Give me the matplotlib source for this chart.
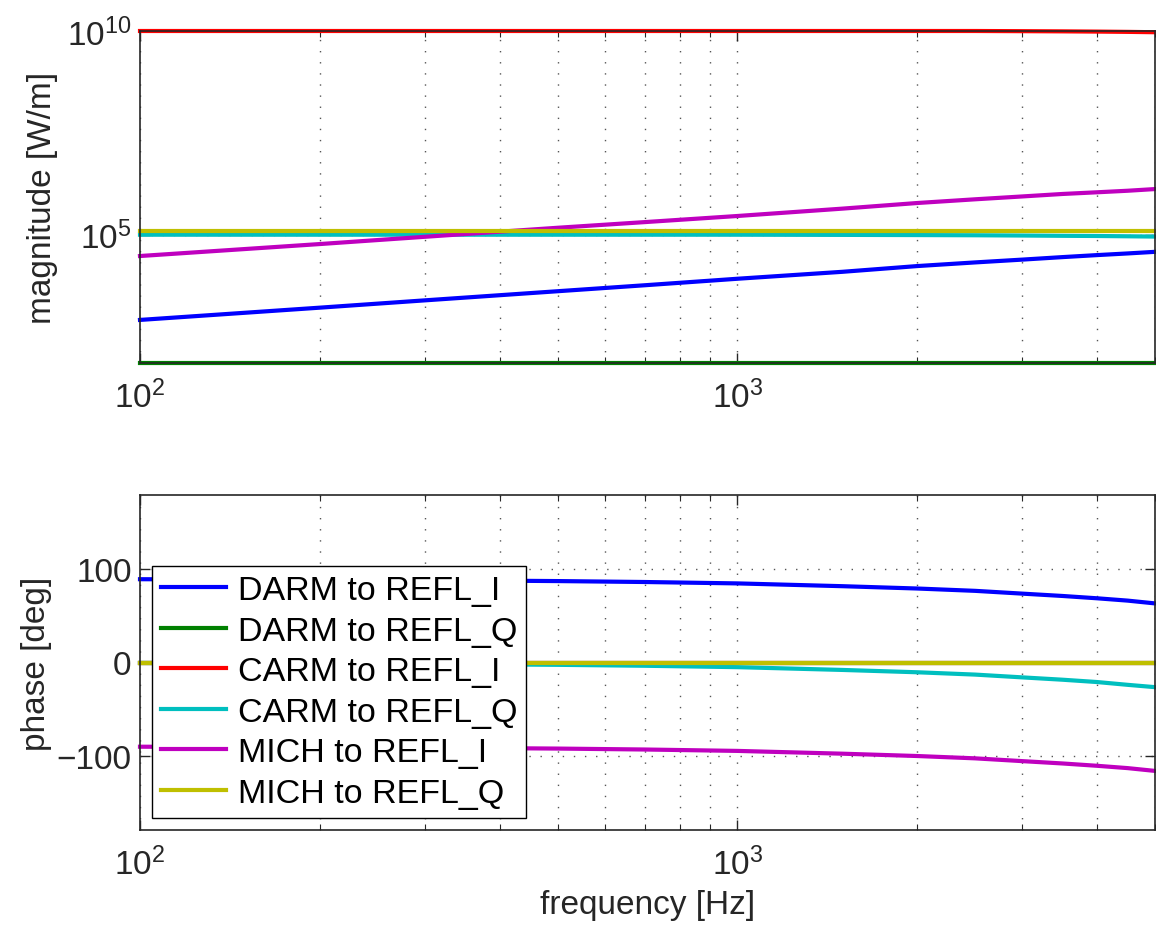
import matplotlib
matplotlib.use("Agg")
import numpy as np
from matplotlib import pyplot as plt
from matplotlib.ticker import LogLocator, FixedLocator, NullFormatter

plt.rcParams["font.family"] = ["Liberation Sans", "DejaVu Sans"]
plt.rcParams["mathtext.fontset"] = "custom"
plt.rcParams["mathtext.rm"] = "Liberation Sans"
plt.rcParams["mathtext.it"] = "Liberation Sans:italic"

FS = 24

# frequency points [Hz]
freq = [100, 200, 300, 500, 700, 1000, 1500, 2000, 2500, 3000, 3500, 4000, 4500, 5000]

labels = [
    "DARM to REFL_I",
    "DARM to REFL_Q",
    "CARM to REFL_I",
    "CARM to REFL_Q",
    "MICH to REFL_I",
    "MICH to REFL_Q",
]
colors = ["#0000ff", "#008000", "#ff0000", "#00bfbf", "#bf00bf", "#bfbf00"]

# magnitude [W/m]
mag_darm_i = [8.1e2, 1.62e3, 2.45e3, 4.1e3, 5.75e3, 8.3e3, 1.23e4, 1.70e4,
              2.09e4, 2.45e4, 2.82e4, 3.16e4, 3.47e4, 3.8e4]
mag_darm_q = [71] * 14
mag_carm_i = [1.0e10, 1.0e10, 1.0e10, 1.0e10, 1.0e10, 1.0e10, 1.0e10, 1.0e10,
              1.0e10, 0.99e10, 0.98e10, 0.967e10, 0.952e10, 0.933e10]
mag_carm_q = [1.0e5, 1.0e5, 1.0e5, 1.0e5, 1.0e5, 1.0e5, 0.99e5, 0.98e5,
              0.97e5, 0.955e5, 0.94e5, 0.93e5, 0.915e5, 0.9e5]
mag_mich_i = [3.0e4, 5.9e4, 8.9e4, 1.48e5, 2.04e5, 2.88e5, 4.37e5, 6.0e5,
              7.4e5, 8.7e5, 1.0e6, 1.1e6, 1.2e6, 1.32e6]
mag_mich_q = [1.2e5] * 14

# phase [deg]
ph_darm_i = [89.5, 89, 88.5, 87.5, 86.5, 85, 82, 79.5, 77, 74, 71.5, 69, 66.5, 63.5]
ph_darm_q = [0] * 14
ph_carm_i = [0] * 14
ph_carm_q = [-0.5, -1, -1.5, -2.5, -3.5, -5, -8, -10.5, -13, -16, -18.5, -21, -24, -26.5]
ph_mich_i = [-90.5, -91, -91.5, -92.5, -93.5, -95, -98, -100.5, -103, -106, -108.5,
             -111, -113.5, -116.5]
ph_mich_q = [0] * 14

mags = [mag_darm_i, mag_darm_q, mag_carm_i, mag_carm_q, mag_mich_i, mag_mich_q]
phases = [ph_darm_i, ph_darm_q, ph_carm_i, ph_carm_q, ph_mich_i, ph_mich_q]

W, H = 1156, 928
fig = plt.figure(figsize=(W / 100, H / 100), dpi=100)
left, right = 140, 1155
ax_mag = fig.add_axes([left / W, 1 - 364 / H, (right - left) / W, (364 - 32) / H])
ax_ph = fig.add_axes([left / W, 1 - 831 / H, (right - left) / W, (831 - 496) / H])

axis_color = "#262626"
grid_kw = dict(color="#555555", linestyle=(0, (1, 7)), linewidth=1.0)

for ax in (ax_mag, ax_ph):
    ax.set_xscale("log")
    ax.set_xlim(100, 5000)
    ax.xaxis.set_major_locator(LogLocator(base=10, numticks=10))
    ax.xaxis.set_minor_locator(LogLocator(base=10, subs=np.arange(2, 10), numticks=20))
    ax.xaxis.set_minor_formatter(NullFormatter())
    ax.tick_params(which="both", direction="in", top=True, right=True,
                   labelsize=FS, colors=axis_color)
    ax.tick_params(axis="x", which="major", pad=12)
    ax.tick_params(axis="y", which="major", pad=6)
    ax.tick_params(which="major", length=7, width=1)
    ax.tick_params(which="minor", length=4, width=0.8)
    for sp in ax.spines.values():
        sp.set_color(axis_color)
        sp.set_linewidth(1.2)
    ax.grid(True, which="major", **grid_kw)
    ax.grid(True, which="minor", axis="x", **grid_kw)
    ax.set_axisbelow(True)

for m, c in zip(mags, colors):
    ax_mag.plot(freq, m, color=c, linewidth=3, clip_on=False)
ax_mag.set_yscale("log")
ax_mag.set_ylim(71, 1e10)
ax_mag.yaxis.set_major_locator(FixedLocator([1e5, 1e10]))
ax_mag.yaxis.set_minor_locator(FixedLocator([]))
ax_mag.set_ylabel("magnitude [W/m]", fontsize=FS, color=axis_color)
ax_mag.yaxis.set_label_coords((58 - left) / (right - left), 0.5)

lines = []
for p, c, lab in zip(phases, colors, labels):
    ln, = ax_ph.plot(freq, p, color=c, linewidth=3, label=lab, clip_on=False)
    lines.append(ln)
ax_ph.set_ylim(-180, 180)
ax_ph.set_yticks([-100, 0, 100])
ax_ph.set_yticklabels(["\u2212100", "0", "100"])
ax_ph.set_ylabel("phase [deg]", fontsize=FS, color=axis_color)
ax_ph.yaxis.set_label_coords((52 - left) / (right - left), 0.5)
ax_ph.set_xlabel("frequency [Hz]", fontsize=FS, color=axis_color, labelpad=6)

leg = ax_ph.legend(handles=lines, loc="lower left", bbox_to_anchor=(0.0118, 0.036),
                   borderaxespad=0, fontsize=24.5, frameon=True, fancybox=False,
                   framealpha=1, edgecolor="black", handlelength=1.9,
                   handletextpad=0.35, labelspacing=0.28, borderpad=0.27)
leg.get_frame().set_linewidth(1.0)
for t in leg.get_texts():
    t.set_color("black")

fig.savefig("out.png", dpi=100)
